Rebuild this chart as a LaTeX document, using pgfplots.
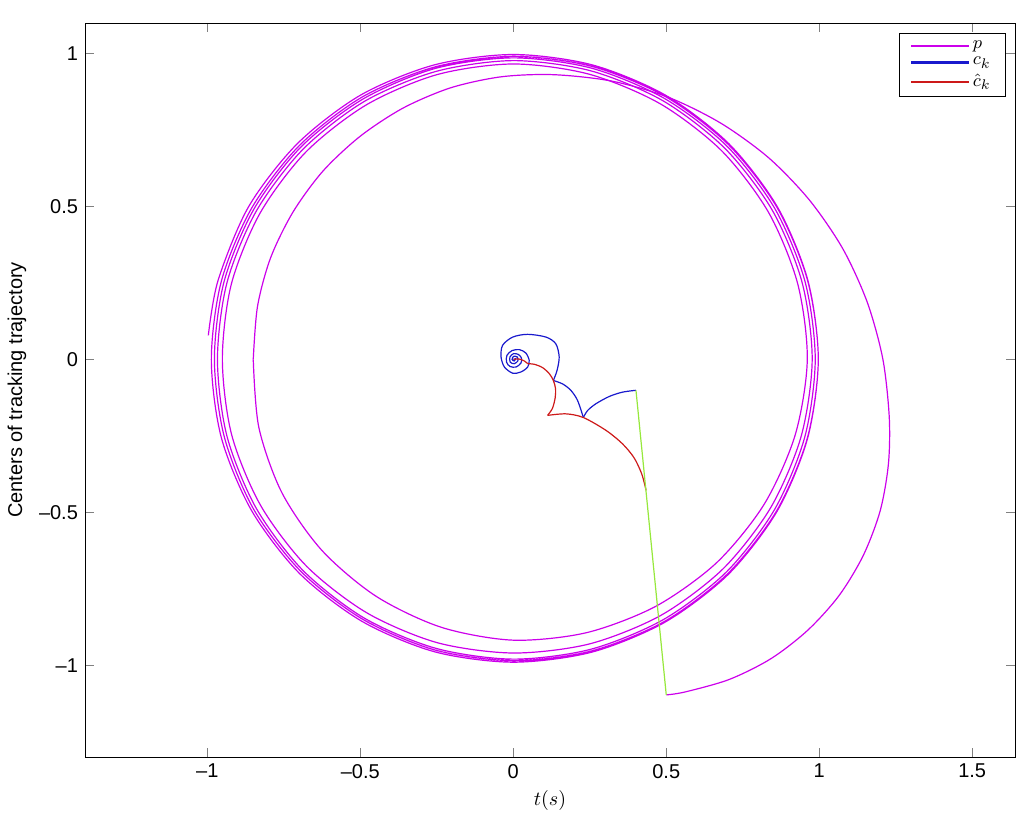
\documentclass[border=0pt]{standalone}
\usepackage{fontspec}
\setmainfont{Liberation Sans}
\usepackage{pgfplots}
\pgfplotsset{compat=1.18}
\definecolor{pcol}{RGB}{204,0,235}
\definecolor{ccol}{RGB}{25,25,205}
\definecolor{hcol}{RGB}{205,25,25}
\definecolor{gcol}{RGB}{150,232,60}
\begin{document}
\fontsize{10}{12}\selectfont
\begin{tikzpicture}
\begin{axis}[
    scale only axis,
    width=465pt, height=367pt,
    xmin=-1.4, xmax=1.64,
    ymin=-1.3, ymax=1.1,
    xtick={-1,-0.5,0,0.5,1,1.5},
    xticklabels={--1,--0.5,0,0.5,1,1.5},
    ytick={-1,-0.5,0,0.5,1},
    yticklabels={--1,--0.5,0,0.5,1},
    tick align=inside,
    major tick length=4.5pt,
    xlabel={$t(s)$},
    ylabel={Centers of tracking trajectory},
    xlabel style={at={(axis description cs:0.5,-0.0586)},anchor=center},
    ylabel style={at={(axis description cs:-0.0731,0.5)},anchor=center},
    legend style={at={(1,1)},anchor=north east,xshift=-4.5pt,yshift=-5pt,
        draw=black,inner xsep=5.5pt,inner ysep=1.5pt,row sep=-1pt,
        font=\fontsize{9.5}{10}\selectfont},
    legend cell align=left,
    legend image code/.code={\fill[#1] (1.5pt,-0.22pt) rectangle (30pt,0.22pt);},
    every axis plot/.append style={line width=0.6pt},
]

% legend
\addlegendimage{color=pcol}
\addlegendentry{$p$}
\addlegendimage{color=ccol}
\addlegendentry{$c_k$}
\addlegendimage{color=hcol}
\addlegendentry{$\hat{c}_k$}

% trajectory p, first turn (cartesian)
\addplot[pcol, smooth, forget plot] coordinates {
(0.500,-1.097) (0.563,-1.087) (0.707,-1.046) (0.843,-0.978) (0.963,-0.885)
(1.065,-0.772) (1.144,-0.641) (1.199,-0.496) (1.226,-0.344) (1.229,-0.190)
(1.208,0.001) (1.157,0.187) (1.077,0.362) (0.968,0.521) (0.835,0.659)
(0.679,0.772) (0.507,0.857) (0.322,0.910) (0.131,0.931) (-0.040,0.924)
(-0.205,0.888) (-0.360,0.822) (-0.500,0.730) (-0.622,0.616) (-0.720,0.482)
(-0.793,0.333) (-0.836,0.174) (-0.850,0.000)
};

% trajectory p, later turns (angle in degrees, radius)
\addplot[pcol, smooth, forget plot, data cs=polar] coordinates {
(180,0.850) (195,0.861) (210,0.873) (225,0.884) (240,0.895) (255,0.907)
(270,0.918) (285,0.925) (300,0.932) (315,0.940) (330,0.947) (345,0.954)
(360,0.961) (375,0.962) (390,0.963) (405,0.964) (420,0.964) (435,0.965)
(450,0.966) (465,0.964) (480,0.961) (495,0.959) (510,0.956) (525,0.954)
(540,0.951) (555,0.953) (570,0.954) (585,0.956) (600,0.957) (615,0.959)
(630,0.960) (645,0.963) (660,0.966) (675,0.969) (690,0.971) (705,0.974)
(720,0.977) (735,0.977) (750,0.977) (765,0.977) (780,0.977) (795,0.977)
(810,0.977) (825,0.975) (840,0.974) (855,0.972) (870,0.970) (885,0.969)
(900,0.967) (915,0.969) (930,0.971) (945,0.974) (960,0.976) (975,0.978)
(990,0.980) (1005,0.981) (1020,0.982) (1035,0.984) (1050,0.985) (1065,0.986)
(1080,0.987) (1095,0.987) (1110,0.987) (1125,0.987) (1140,0.986) (1155,0.986)
(1170,0.986) (1185,0.985) (1200,0.983) (1215,0.982) (1230,0.980) (1245,0.979)
(1260,0.977) (1275,0.978) (1290,0.980) (1305,0.981) (1320,0.982) (1335,0.984)
(1350,0.985) (1365,0.987) (1380,0.989) (1395,0.991) (1410,0.993) (1425,0.995)
(1440,0.997) (1455,0.996) (1470,0.995) (1485,0.994) (1500,0.993) (1515,0.992)
(1530,0.991) (1545,0.990) (1560,0.990) (1575,0.989) (1590,0.988) (1605,0.988)
(1620,0.987) (1635,0.988) (1650,0.988) (1665,0.989) (1680,0.989) (1695,0.990)
(1710,0.990) (1725,0.991) (1740,0.992) (1755,0.994) (1770,0.995) (1785,0.996)
(1800,0.997) (1815,0.997) (1830,0.997) (1845,0.997) (1860,0.997) (1875,0.997)
(1890,0.997) (1905,0.997) (1920,0.998) (1935,0.998) (1950,0.999) (1965,0.999)
(1975.5,1.000)
};

% centres c_k
\addplot[ccol, smooth, forget plot] coordinates {
(0.401,-0.101) (0.357,-0.107) (0.314,-0.121) (0.270,-0.145) (0.243,-0.167) (0.229,-0.190)
};
\addplot[ccol, smooth, forget plot] coordinates {
(0.229,-0.190) (0.210,-0.134) (0.188,-0.101) (0.161,-0.080) (0.131,-0.069)
};
\addplot[ccol, smooth, forget plot] coordinates {
(0.131,-0.069) (0.143,-0.036) (0.150,0.008) (0.139,0.051) (0.107,0.073) (0.047,0.082)
(-0.002,0.073) (-0.035,0.046) (-0.040,0.008) (-0.029,-0.025) (-0.002,-0.045)
(0.025,-0.041) (0.047,-0.025) (0.052,-0.003) (0.041,0.021) (0.020,0.032)
(-0.004,0.029) (-0.021,0.013) (-0.022,-0.009) (-0.011,-0.023) (0.009,-0.025)
(0.025,-0.012) (0.027,0.004) (0.017,0.016) (0.001,0.019) (-0.011,0.008)
(-0.010,-0.009) (0.003,-0.014) (0.015,-0.005) (0.013,0.008) (0.001,0.010)
(-0.004,0.0) (0.003,-0.005) (0.007,0.002) (0.001,0.0)
};

% estimated centres
\addplot[hcol, smooth, forget plot] coordinates {
(0.434,-0.428) (0.420,-0.375) (0.395,-0.322) (0.357,-0.276) (0.303,-0.232)
(0.229,-0.190) (0.172,-0.178) (0.112,-0.183)
};
\addplot[hcol, smooth, forget plot] coordinates {
(0.112,-0.183) (0.128,-0.160) (0.137,-0.125) (0.138,-0.095) (0.131,-0.069)
(0.118,-0.047) (0.096,-0.027) (0.069,-0.016) (0.047,-0.014)
};
\addplot[hcol, smooth, forget plot] coordinates {
(0.047,-0.014) (0.036,-0.005) (0.020,0.001) (0.007,0.001) (0.001,0.0)
};

% link from c_0 to p_0
\addplot[gcol, forget plot] coordinates {(0.401,-0.101) (0.500,-1.097)};

\end{axis}
\path ([shift={(-42.5pt,-30.5pt)}]current axis.south west)
      rectangle ([shift={(8pt,11.5pt)}]current axis.north east);
\end{tikzpicture}
\end{document}
